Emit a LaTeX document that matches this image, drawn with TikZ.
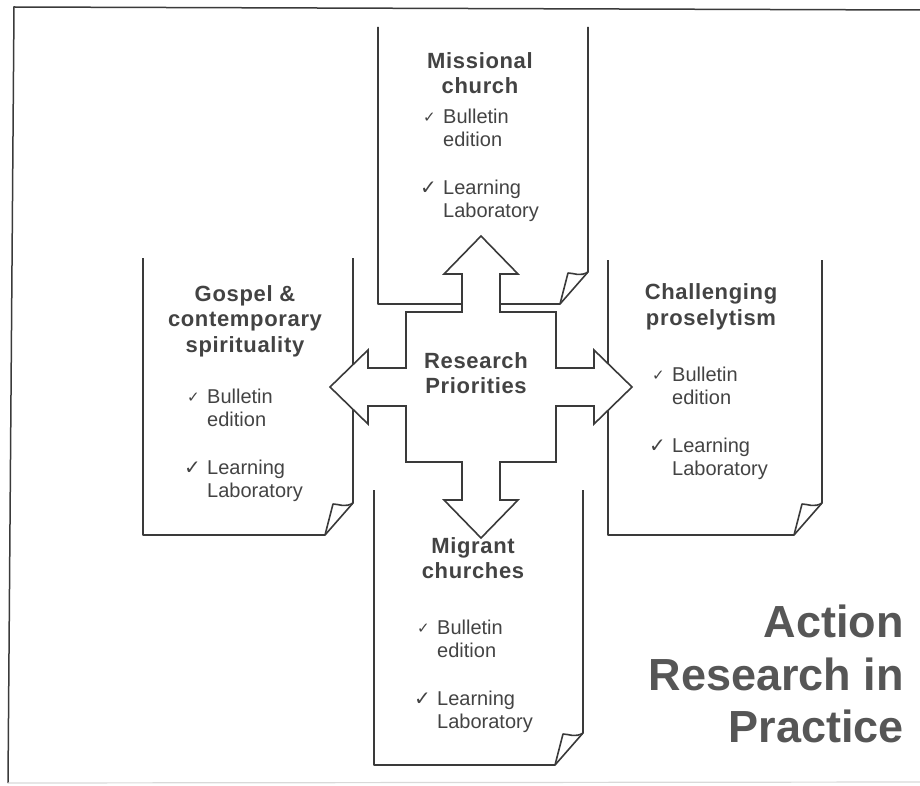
\documentclass[tikz,border=0pt]{standalone}
\usepackage{fontspec}
\setmainfont{Liberation Sans}
\newfontfamily\headfont[LetterSpace=3]{Liberation Sans}
\newfontfamily\chkfont{DejaVu Sans}
\usepackage{tikz}
\usetikzlibrary{positioning}

\definecolor{inkgray}{HTML}{3A3A3A}
\definecolor{textgray}{HTML}{434343}

% bullet list of one page
\newcommand{\chklist}{%
  \begin{tabular}[t]{@{}l@{}l@{}}
    \makebox[20pt][l]{\raisebox{1pt}{\chkfont\fontsize{15}{15}\selectfont ✓}} & Bulletin\\
    & edition\\[25pt]
    \makebox[20pt][l]{\hspace{-3pt}\chkfont\fontsize{20}{20}\selectfont ✓} & Learning\\
    & Laboratory
  \end{tabular}}

\begin{document}
\begin{tikzpicture}[x=1pt, y=-1pt]
    % styles
    \tikzstyle{page} = [draw=inkgray, line width=1.6pt, line join=round]
    \tikzstyle{cross} = [draw=inkgray, fill=white, line width=1.6pt, line join=miter]
    \tikzstyle{head} = [inner sep=0pt, align=center, text=textgray, font=\headfont\bfseries\fontsize{22}{25.5}\selectfont]
    \tikzstyle{list} = [inner sep=0pt, anchor=base west, text=textgray, font=\fontsize{20}{23}\selectfont]
    \tikzstyle{bigtitle} = [inner sep=0pt, align=right, text=textgray!90, font=\bfseries\fontsize{45}{52.5}\selectfont]

    \useasboundingbox (0,0) rectangle (920,786);

    % frame
    \draw[inkgray, line width=1.5pt] (920,10) -- (14,7) -- (8,783);
    \draw[gray!30, line width=1.2pt] (8,783) -- (920,782);

    % pages
    \foreach \xl/\yt/\xr/\yb in {378/27/588/304, 143/258/353/535, 608/260/822/535, 374/490/583/765} {
        \draw[page] (\xl,\yt) -- (\xl,\yb) -- (\xr-28,\yb) -- (\xr,\yb-32) -- (\xr,\yt);
        \draw[page] (\xr,\yb-32) .. controls (\xr-8,\yb-27) and (\xr-14,\yb-31) .. (\xr-20,\yb-31) -- (\xr-28,\yb);
    }

    % four-way arrow
    \draw[cross, shift={(481,387)}]
        (-75,-75) -- (-19,-75) -- (-19,-113) -- (-37,-113) -- (0,-151) -- (37,-113) -- (19,-113) -- (19,-75)
        -- (75,-75) -- (75,-19) -- (113,-19) -- (113,-37) -- (151,0) -- (113,37) -- (113,19) -- (75,19)
        -- (75,75) -- (19,75) -- (19,113) -- (37,113) -- (0,151) -- (-37,113) -- (-19,113) -- (-19,75)
        -- (-75,75) -- (-75,19) -- (-113,19) -- (-113,37) -- (-151,0) -- (-113,-37) -- (-113,-19) -- (-75,-19)
        -- cycle;

    % texts
    \node[head] (priorities) at (476,373) {Research\\Priorities};

    \node[head] (missional) at (480,73) {Missional\\church};
    \node[list] (missional-list) at (423,124) {\chklist};

    \node[head] (gospel) at (245,321) {Gospel \&\\contemporary\\spirituality};
    \node[list] (gospel-list) at (187,403) {\chklist};

    \node[head] (proselytism) at (711,307) {Challenging\\proselytism};
    \node[list] (proselytism-list) at (652,381) {\chklist};

    \node[head] (migrant) at (473,558) {Migrant\\churches};
    \node[list] (migrant-list) at (417,634) {\chklist};

    \node[bigtitle, anchor=east] (action) at (904,674) {Action\\Research in\\Practice};
\end{tikzpicture}
\end{document}
